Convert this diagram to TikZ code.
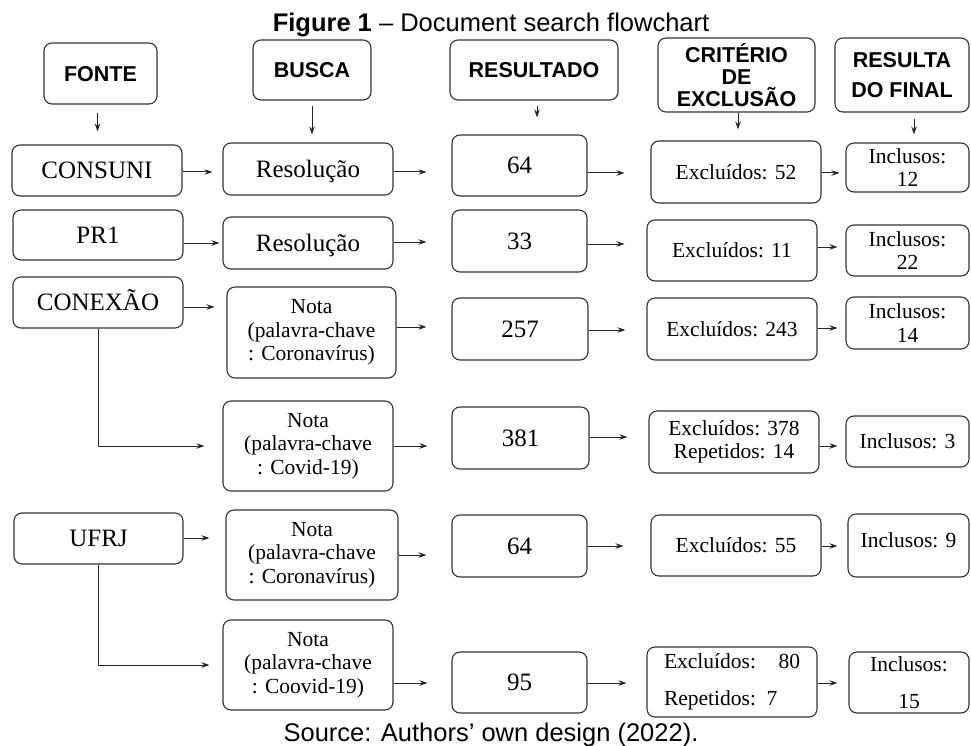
\documentclass[tikz,border=0pt]{standalone}
\usepackage{fontspec}
\setmainfont{Liberation Serif}
\newfontfamily\arialf{Liberation Sans}
\usetikzlibrary{arrows.meta}
\tikzset{
  box/.style={draw=black!80, line width=1.1pt, rounded corners=8pt, inner sep=0pt, align=center},
  big/.style={font=\fontsize{25}{27}\selectfont, text height=16.5pt, text depth=0pt},
  small/.style={font=\fontsize{21.5}{23.5}\selectfont},
  one/.style={small, text height=14pt, text depth=0pt},
  head/.style={font=\arialf\bfseries\fontsize{21.5}{22}\selectfont},
  arr/.style={-{Stealth[length=8pt,width=5.5pt]}, line width=1pt, draw=black!85},
}
\newcommand\mybox[7]{%
  \pgfmathsetmacro\bw{#4-#2}\pgfmathsetmacro\bh{#5-#3}%
  \pgfmathsetmacro\bcx{(#2+#4)/2}\pgfmathsetmacro\bcy{-(#3+#5)/2}%
  \node[box,#6,minimum width=\bw pt,minimum height=\bh pt] (#1) at (\bcx pt,\bcy pt) {#7};}
\newcommand\harr[4]{\draw[arr,shorten >=#4pt] (#1.east |- 0,-#3pt) -- (#2.west |- 0,-#3pt);}
\begin{document}
\begin{tikzpicture}[x=1pt,y=1pt]
\useasboundingbox (0,0) rectangle (971,-746);
\node[anchor=base, font=\arialf\fontsize{25.5}{28}\selectfont] (title) at (491,-32) {\textbf{Figure 1} – Document search flowchart};
\node[anchor=base, font=\arialf\fontsize{25.5}{28}\selectfont] (source) at (491,-741) {Source: Authors’ own design (2022).};
% headers
\mybox{hF}{44}{43}{157}{104}{head,text height=15.5pt,text depth=0pt}{FONTE}
\mybox{hB}{253}{40}{371}{100}{head,text height=15.5pt,text depth=0pt}{BUSCA}
\mybox{hR}{450}{40}{618}{100}{head,text height=15.5pt,text depth=0pt}{RESULTADO}
\mybox{hC}{658}{38}{815}{112}{head}{CRITÉRIO\\DE\\EXCLUSÃO}
\mybox{hD}{835}{38}{969}{112}{head,font=\arialf\bfseries\fontsize{21.5}{30}\selectfont}{RESULTA\\DO FINAL}
% row 1
\mybox{s1}{12}{145}{182}{196}{big}{CONSUNI}
\mybox{b1}{223}{143}{393}{195}{big}{Resolução}
\mybox{n1}{452}{135}{587}{196}{big}{64}
\mybox{e1}{651}{141}{821}{203}{one}{Excluídos: 52}
\mybox{i1}{846}{143}{969}{192}{small}{Inclusos:\\12}
% row 2
\mybox{s2}{13}{210}{183}{260}{big}{PR1}
\mybox{b2}{223}{217}{393}{269}{big}{Resolução}
\mybox{n2}{452}{210}{587}{272}{big}{33}
\mybox{e2}{647}{220}{817}{281}{one}{Excluídos: 11}
\mybox{i2}{846}{225}{969}{276}{small}{Inclusos:\\22}
% row 3
\mybox{s3}{13}{277}{183}{328}{big}{CONEXÃO}
\mybox{b3}{227}{287}{396}{378}{small}{Nota\\(palavra-chave\\: Coronavírus)}
\mybox{n3}{452}{298}{588}{360}{big}{257}
\mybox{e3}{647}{298}{817}{360}{one}{Excluídos: 243}
\mybox{i3}{846}{297}{969}{349}{small}{Inclusos:\\14}
% row 4
\mybox{b4}{223}{401}{393}{491}{small}{Nota\\(palavra-chave\\: Covid-19)}
\mybox{n4}{452}{407}{589}{469}{big}{381}
\mybox{e4}{649}{411}{819}{473}{small,font=\fontsize{21.5}{23}\selectfont}{Excluídos: 378\\Repetidos: 14}
\mybox{i4}{846}{416}{969}{467}{one}{Inclusos: 3}
% row 5
\mybox{s5}{14}{513}{183}{564}{big}{UFRJ}
\mybox{b5}{226}{510}{398}{600}{small}{Nota\\(palavra-chave\\: Coronavírus)}
\mybox{n5}{452}{515}{587}{577}{big}{64}
\mybox{e5}{651}{515}{821}{576}{one}{Excluídos: 55}
\mybox{i5}{848}{514}{969}{577}{small,text height=14pt,text depth=10pt}{Inclusos: 9}
% row 6
\mybox{b6}{223}{620}{393}{710}{small}{Nota\\(palavra-chave\\: Coovid-19)}
\mybox{n6}{452}{652}{587}{713}{big}{95}
\mybox{e6}{647}{647}{817}{717}{font=\fontsize{21.5}{37}\selectfont,text width=136pt,align=left}{Excluídos:\hfill 80\\Repetidos: 7}
\mybox{i6}{849}{652}{969}{713}{font=\fontsize{21.5}{37}\selectfont}{Inclusos:\\15}
% header arrows
\draw[arr,shorten <=8pt,shorten >=13pt] ([xshift=-3pt]hF.south) -- ([xshift=-3pt]hF.south |- s1.north);
\draw[arr,shorten <=5pt,shorten >=8pt] (hB.south) -- (hB.south |- b1.north);
\draw[arr,shorten <=5pt,shorten >=17pt] ([xshift=3pt]hR.south) -- ([xshift=3pt]hR.south |- n1.north);
\draw[arr,shorten >=11pt] ([xshift=1.5pt]hC.south) -- ([xshift=1.5pt]hC.south |- e1.north);
\draw[arr,shorten <=6pt,shorten >=8pt] ([xshift=12pt]hD.south) -- ([xshift=12pt]hD.south |- i1.north);
% row arrows
\harr{s1}{b1}{172}{10}
\harr{b1}{n1}{172}{25}
\harr{n1}{e1}{173}{26}
\harr{e1}{i1}{173}{6}
\harr{s2}{b2}{243}{3}
\harr{b2}{n2}{242}{25}
\harr{n2}{e2}{244}{22}
\harr{e2}{i2}{247}{8}
\harr{s3}{b3}{307}{12}
\harr{b3}{n3}{327}{25}
\harr{n3}{e3}{330}{21}
\harr{e3}{i3}{328}{8}
\draw[arr,shorten >=18pt] (s3.south) |- (b4.west);
\harr{b4}{n4}{446}{24}
\harr{n4}{e4}{437}{21}
\harr{e4}{i4}{446}{8}
\harr{s5}{b5}{538}{16}
\harr{b5}{n5}{555}{25}
\harr{n5}{e5}{546}{27}
\harr{e5}{i5}{546}{10}
\draw[arr,shorten >=13pt] (s5.south) |- (b6.west);
\harr{b6}{n6}{683}{24}
\harr{n6}{e6}{683}{20}
\harr{e6}{i6}{683}{11}
\end{tikzpicture}
\end{document}
